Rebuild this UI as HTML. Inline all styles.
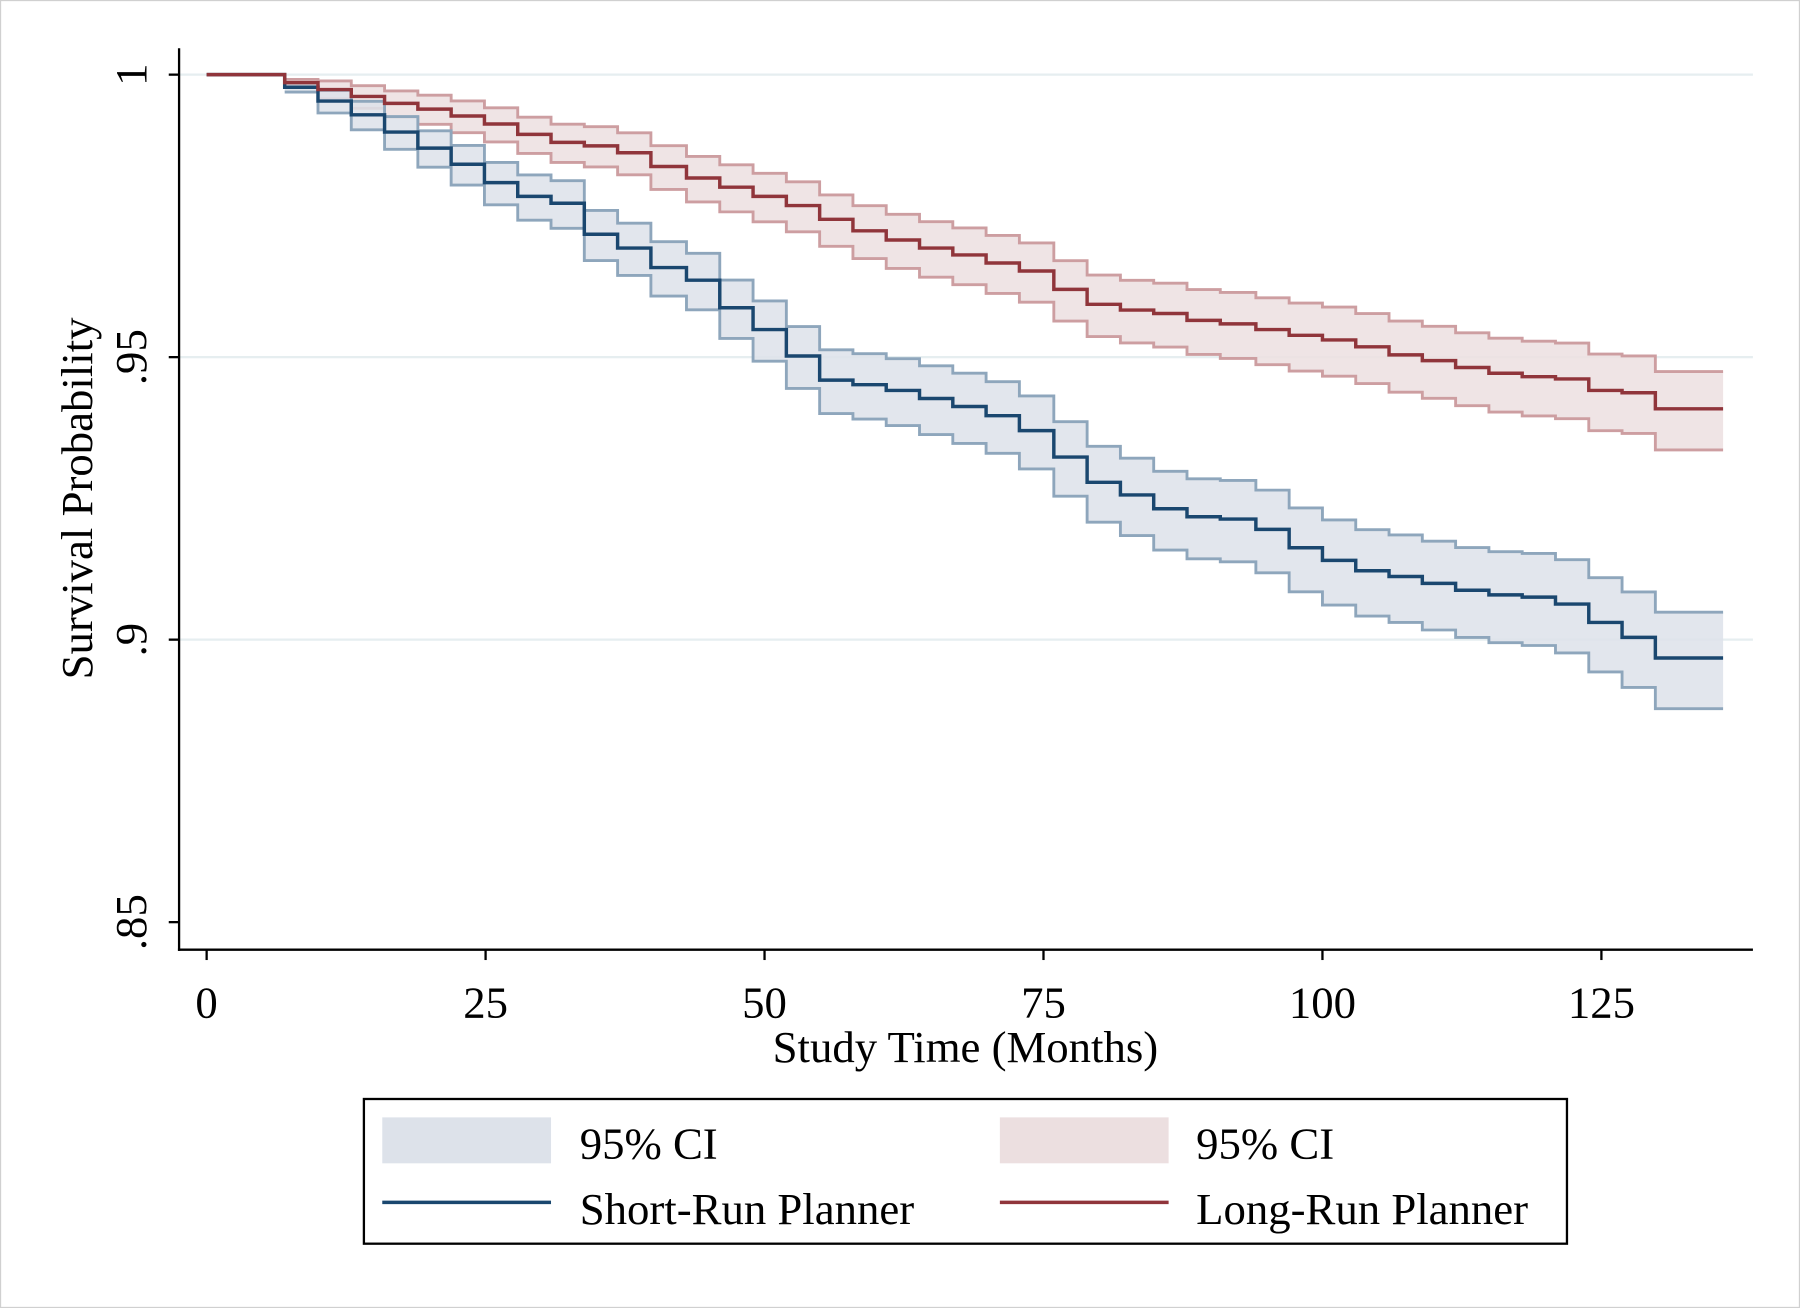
<!DOCTYPE html>
<html><head><meta charset="utf-8">
<style>html,body{margin:0;padding:0;background:#fff}svg{display:block}</style></head>
<body>
<svg id="s" width="1800" height="1308" viewBox="0 0 1568 1139" preserveAspectRatio="none" xmlns="http://www.w3.org/2000/svg" font-family="Liberation Serif, serif">
<rect x="0.5" y="0.5" width="1567" height="1138" fill="#fff" stroke="#d0d0d0"/>
<g stroke="#e6eef0" stroke-width="2">
<line x1="156" y1="65" x2="1527" y2="65"/>
<line x1="156" y1="311" x2="1527" y2="311"/>
<line x1="156" y1="557" x2="1527" y2="557"/>
</g>
<g id="plot"></g>
<g stroke="#000" stroke-width="2">
<line x1="156" y1="42" x2="156" y2="828"/>
<line x1="155" y1="827" x2="1527" y2="827"/>
<line x1="147" y1="65" x2="156" y2="65"/><line x1="147" y1="311" x2="156" y2="311"/>
<line x1="147" y1="557" x2="156" y2="557"/><line x1="147" y1="803" x2="156" y2="803"/>
<line x1="180" y1="827" x2="180" y2="836"/><line x1="423" y1="827" x2="423" y2="836"/>
<line x1="666" y1="827" x2="666" y2="836"/><line x1="909" y1="827" x2="909" y2="836"/>
<line x1="1152" y1="827" x2="1152" y2="836"/><line x1="1395" y1="827" x2="1395" y2="836"/>
</g>
<g font-size="39" text-anchor="middle" fill="#000">
<text x="180" y="886">0</text><text x="423" y="886">25</text><text x="666" y="886">50</text>
<text x="909" y="886">75</text><text x="1152" y="886">100</text><text x="1395" y="886">125</text>
<text transform="translate(127,65) rotate(-90)">1</text>
<text transform="translate(127,311) rotate(-90)">.95</text>
<text transform="translate(127,557) rotate(-90)">.9</text>
<text transform="translate(127,803) rotate(-90)">.85</text>
<text x="841" y="925">Study Time (Months)</text>
<text transform="translate(80,434) rotate(-90)">Survival Probability</text>
</g>
<rect x="317" y="957" width="1048" height="126" fill="#fff" stroke="#000" stroke-width="2"/>
<rect x="333" y="973" width="147" height="40" fill="#dde2ea"/>
<rect x="871" y="973" width="147" height="40" fill="#ecdfe0"/>
<line x1="333" y1="1047" x2="480" y2="1047" stroke="#1a476f" stroke-width="3"/>
<line x1="871" y1="1047" x2="1018" y2="1047" stroke="#90353b" stroke-width="3"/>
<g font-size="39" fill="#000">
<text x="505" y="1009">95% CI</text><text x="1042" y="1009">95% CI</text>
<text x="505" y="1066">Short-Run Planner</text><text x="1042" y="1066">Long-Run Planner</text>
</g>
</svg>
<script>
var xs=[180,248,277,306,335,364,393,422,451,480,509,538,567,598,627,656,685,714,743,772,801,830,859,888,918,947,976,1005,1034,1063,1094,1123,1152,1181,1210,1239,1268,1297,1326,1355,1384,1413,1442,1501];
var blue=[65,76,88,100,115,129,143,159,171,177,204,216,233,244,268,287,310,331,335,340,347,354,362,375,398,420,431,443,450,452,461,477,488,497,502,508,514,518,520,526,542,555,573];
var red=[65,72,78,84,90,95,101,108,117,124,127,133,145,155,163,171,179,191,201,209,216,222,229,236,252,265,270,273,279,282,287,292,296,302,309,314,320,325,328,330,340,342,356];
function step(ys,f){var d="";for(var i=0;i<ys.length;i++){var y=f(ys[i],xs[i]);d+=(i?"L":"M")+xs[i]+","+y+"L"+xs[i+1]+","+y;}return d;}
function band(ys,a,b,fill,stroke){
 var dd=function(x){return x<248?0:a+b*Math.sqrt(x-248);};
 var up=function(y,x){return (y-dd(x)*0.95).toFixed(1);};
 var lo=function(y,x){return (y+dd(x)*1.05).toFixed(1);};
 var d1="",d2="",d3="",s="";
 for(var i=1;i<ys.length;i++){var x=xs[i],y=ys[i];d1+=(i>1?"L":"M")+x+","+up(y,x)+"L"+xs[i+1]+","+up(y,x);}
 for(var i=ys.length-1;i>=1;i--){var x=xs[i],y=ys[i];d2+="L"+xs[i+1]+","+lo(y,x)+"L"+x+","+lo(y,x);}
 for(var i=1;i<ys.length;i++){var x=xs[i],y=ys[i];d3+=(i>1?"L":"M")+x+","+lo(y,x)+"L"+xs[i+1]+","+lo(y,x);}
 s+='<path d="'+d1+d2+'Z" fill="'+fill+'" fill-opacity="0.85"/>';
 s+='<path d="'+d1+'" fill="none" stroke="'+stroke+'" stroke-width="2.5"/>';
 s+='<path d="'+d3+'" fill="none" stroke="'+stroke+'" stroke-width="2.5"/>';
 return s;}
var g=document.getElementById("plot");
g.innerHTML=band(red,3,0.9,"#ecdfe0","#cd9ea1")+band(blue,4,1.1,"#dde2ea","#8ea6bc")+
 '<path d="'+step(blue,function(y){return y;})+'" fill="none" stroke="#1a476f" stroke-width="3"/>'+
 '<path d="'+step(red,function(y){return y;})+'" fill="none" stroke="#90353b" stroke-width="3"/>';
</script>
</body></html>
